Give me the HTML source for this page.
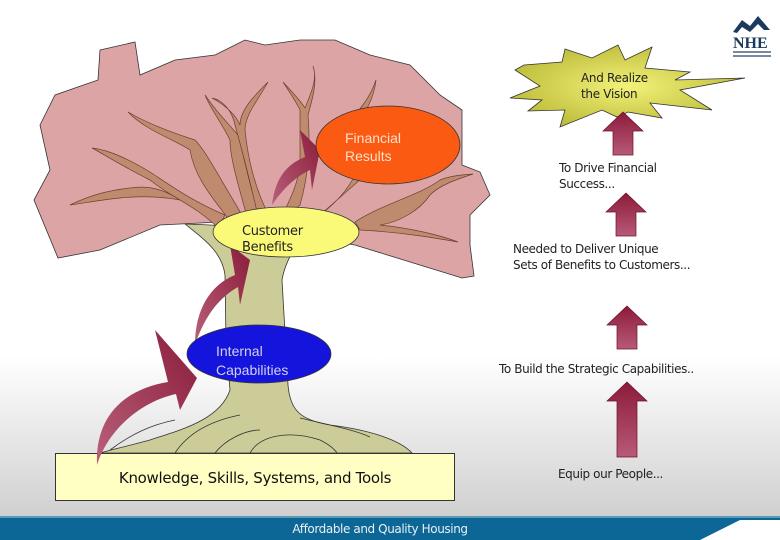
<!DOCTYPE html>
<html><head><meta charset="utf-8"><style>
html,body{margin:0;padding:0;width:780px;height:540px;overflow:hidden;background:#fff}
svg{display:block}
</style></head><body>
<svg width="780" height="540" viewBox="0 0 780 540" xmlns="http://www.w3.org/2000/svg" font-family="'Liberation Sans', sans-serif">
<defs>
<linearGradient id="bg" x1="0" y1="0" x2="0" y2="1">
<stop offset="0" stop-color="#ffffff"/><stop offset="0.66" stop-color="#ffffff"/><stop offset="1" stop-color="#c9c9c9"/>
</linearGradient>
<linearGradient id="ar" x1="0" y1="0" x2="0" y2="1">
<stop offset="0" stop-color="#8c1a3a"/><stop offset="1" stop-color="#b85a78"/>
</linearGradient>
<linearGradient id="car" x1="1" y1="0" x2="0" y2="1">
<stop offset="0" stop-color="#8a1c3a"/><stop offset="1" stop-color="#b8607a"/>
</linearGradient>
<radialGradient id="star" cx="0.5" cy="0.5" r="0.6">
<stop offset="0" stop-color="#f2f27a"/><stop offset="1" stop-color="#b7b532"/>
</radialGradient>
</defs>
<rect width="780" height="540" fill="url(#bg)"/>
<rect x="0" y="518" width="780" height="22" fill="#0c6796"/>
<rect x="0" y="516" width="780" height="2" fill="#5a9ab8"/>
<polygon points="700,540 740,520 780,520 780,540" fill="#ffffff"/>
<text x="380" y="533" font-size="12" fill="#e8f0f4" text-anchor="middle" font-family="'DejaVu Sans',sans-serif" letter-spacing="-0.4">Affordable and Quality Housing</text>

<!-- canopy -->
<polygon points="100,50 135,42 140,75 175,60 215,55 245,40 265,45 300,40 335,40 370,55 410,65 440,95 462,110 462,165 480,172 490,195 470,215 470,245 474,276 462,278 355,245 220,222 160,225 100,250 58,258 34,200 50,170 40,125 55,95 98,80" fill="#dca4a4" stroke="#333" stroke-width="0.8"/>
<!-- branches -->
<g fill="#c08a6e" stroke="#6a4030" stroke-width="0.7">
<path d="M218,228 C195,205 175,200 150,180 C120,165 100,152 92,148 C110,150 130,160 150,172 C170,185 190,200 225,215 Z"/>
<path d="M235,228 C215,200 195,180 190,150 C175,140 145,130 128,112 C145,122 170,132 195,140 C205,150 215,170 245,220 Z"/>
<path d="M250,228 C240,190 230,160 230,140 C220,120 210,108 205,95 C215,110 225,120 238,135 C245,160 250,190 262,222 Z"/>
<path d="M260,225 C250,180 242,150 235,125 C232,110 222,100 212,98 C225,105 236,115 240,125 C240,110 255,95 268,82 C258,100 245,115 245,130 C248,160 255,190 272,222 Z"/>
<path d="M280,220 C290,200 300,180 300,160 C300,140 300,125 300,110 C295,100 288,90 283,82 C292,92 300,100 305,108 C310,95 318,80 313,66 C318,82 312,100 308,115 C310,140 310,170 300,205 Z"/>
<path d="M320,215 C340,200 350,185 355,175 C350,160 350,140 345,125 C360,110 370,98 376,80 C374,98 365,115 355,125 C360,140 362,160 362,178 Z"/>
<path d="M355,222 C380,205 420,195 440,180 C450,176 460,175 473,174 C455,180 440,185 430,195 C420,210 400,222 380,225 C410,228 440,235 458,242 C435,238 400,232 360,230 Z"/>
<path d="M70,205 C90,195 110,190 130,188 C150,185 165,190 180,200 C160,196 140,196 120,198 C100,200 85,203 70,205 Z"/>
</g>
<!-- trunk -->
<path d="M185,224 C205,240 222,252 225,275 L226,340 L230,390 C220,420 180,430 150,440 C120,448 110,450 100,453 L412,453 C400,440 370,430 330,425 C300,420 290,410 288,385 L282,280 C285,262 295,248 300,238 C270,228 220,225 185,224 Z" fill="#cccc99" stroke="#333" stroke-width="0.8"/>
<g fill="none" stroke="#333" stroke-width="0.8">
<path d="M175,453 C190,430 215,420 240,415"/>
<path d="M215,453 C225,440 245,430 260,430"/>
<path d="M250,453 C260,435 290,430 320,440 C330,445 335,450 337,453"/>
<path d="M300,418 C330,425 355,430 370,437"/>
<path d="M110,450 C130,435 150,425 175,420"/>
</g>
<!-- base box -->
<rect x="55.5" y="453.5" width="399" height="47" fill="#ffffc4" stroke="#333" stroke-width="1"/>
<text x="255" y="483" font-size="15" fill="#111" text-anchor="middle" font-family="'DejaVu Sans',sans-serif" letter-spacing="-0.3">Knowledge, Skills, Systems, and Tools</text>

<!-- curved arrows -->
<path d="M97,465 C95,420 120,390 168,382 L155,330 L197,378 L180,410 L176,394 C140,402 108,430 97,465 Z" fill="url(#car)"/>
<path d="M195,345 C195,310 210,285 235,275 L230,245 L250,260 L240,305 L238,287 C220,297 205,315 195,345 Z" fill="url(#car)"/>
<path d="M272,205 C275,180 285,165 305,157 L300,130 L320,150 L312,190 L310,170 C295,177 282,190 272,205 Z" fill="url(#car)"/>

<!-- ellipses -->
<ellipse cx="388" cy="145" rx="72" ry="39" fill="#fb5a12" stroke="#333" stroke-width="0.8"/>
<text x="345" y="143" font-size="14" fill="#fde0c8">Financial</text>
<text x="345" y="161" font-size="14" fill="#fde0c8">Results</text>
<ellipse cx="286" cy="232" rx="73" ry="25" fill="#fafa78" stroke="#333" stroke-width="0.8"/>
<text x="242" y="235" font-size="13" fill="#222" font-family="'DejaVu Sans',sans-serif" letter-spacing="-0.3">Customer</text>
<text x="242" y="251" font-size="13" fill="#222" font-family="'DejaVu Sans',sans-serif" letter-spacing="-0.3">Benefits</text>
<ellipse cx="259" cy="354" rx="72" ry="29" fill="#1414dc" stroke="#333" stroke-width="0.8"/>
<text x="216" y="356" font-size="14" fill="#d0d0ee">Internal</text>
<text x="216" y="375" font-size="14" fill="#d0d0ee">Capabilities</text>

<!-- starburst -->
<polygon points="524,65 562,62 565,49 592,58 618,45 625,60 652,47 645,68 690,72 675,80 745,78 680,90 712,110 650,103 662,118 628,112 617,117 602,110 560,127 565,110 528,111 542,100 510,98 540,86 515,70" fill="url(#star)" stroke="#333" stroke-width="0.8"/>
<text x="581" y="82" font-size="12" fill="#222" font-family="'DejaVu Sans',sans-serif" letter-spacing="-0.3">And Realize</text>
<text x="581" y="98" font-size="12" fill="#222" font-family="'DejaVu Sans',sans-serif" letter-spacing="-0.3">the Vision</text>

<!-- straight arrows -->
<g fill="url(#ar)" stroke="#6a1028" stroke-width="0.7">
<path d="M623,112 L643,131 L633,131 L633,155 L613,155 L613,131 L603,131 Z"/>
<path d="M626,193 L646,212 L636,212 L636,236 L616,236 L616,212 L606,212 Z"/>
<path d="M627,306 L647,325 L637,325 L637,349 L617,349 L617,325 L607,325 Z"/>
<path d="M627,382 L647,401 L637,401 L637,457 L617,457 L617,401 L607,401 Z"/>
</g>
<g font-size="12" fill="#222" font-family="'DejaVu Sans',sans-serif" letter-spacing="-0.4">
<text x="559" y="172">To Drive Financial</text>
<text x="559" y="188">Success...</text>
<text x="513" y="253">Needed to Deliver Unique</text>
<text x="513" y="269">Sets of Benefits to Customers...</text>
<text x="499" y="373">To Build the Strategic Capabilities..</text>
<text x="558" y="478">Equip our People...</text>
</g>

<!-- logo -->
<g>
<path d="M733,32 L742,20 L750,26 L758,16 L770,30 L764,30 L758,24 L750,32 L742,27 L737,33 Z" fill="#1b3a5e"/>
<text x="733" y="48" font-size="16" font-weight="bold" fill="#1b3a5e" font-family="'Liberation Serif',serif">NHE</text>
<rect x="733" y="51" width="38" height="2" fill="#1b3a5e" opacity="0.6"/>
<rect x="733" y="55" width="38" height="2" fill="#1b3a5e" opacity="0.6"/>
</g>
</svg>
</body></html>
